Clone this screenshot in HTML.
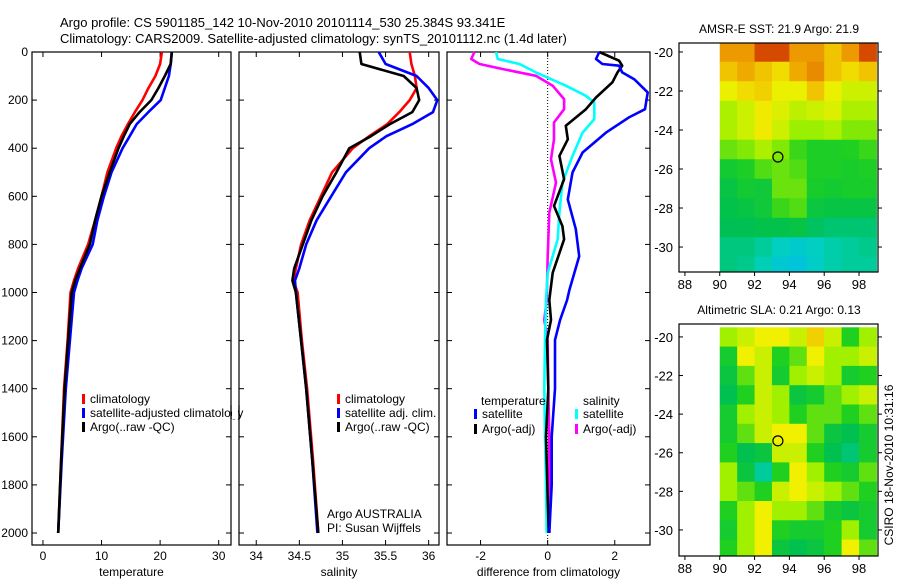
<!DOCTYPE html>
<html><head><meta charset="utf-8"><style>
body{margin:0;background:#fff}
svg{display:block;font-family:"Liberation Sans",sans-serif}
text{font-size:12px;fill:#000}
</style></head><body>
<svg id="fig" width="900" height="580" viewBox="0 0 900 580">
<text x="60" y="27" style="font-size:13px">Argo profile: CS 5901185_142 10-Nov-2010 20101114_530 25.384S 93.341E</text>
<text x="60" y="43" style="font-size:13px">Climatology: CARS2009. Satellite-adjusted climatology: synTS_20101112.nc (1.4d later)</text>
<g id="g"></g>
</svg>
<script>
// ---------- profile data ----------
const depths = [0,50,100,150,200,250,300,350,400,500,600,700,800,900,950,1000,1200,1400,1700,2000];
const tempClim = [20.3,20.0,19.2,18.0,17.0,15.7,14.5,13.4,12.5,11.0,10.0,8.9,7.7,6.0,5.3,4.7,4.2,3.6,3.1,2.6];
const tempArgo = [22,21.8,20.8,19.7,18.5,16.5,14.8,13.8,12.9,11.4,10.0,8.9,8.0,6.3,5.5,4.9,4.3,3.7,3.1,2.6];
const tempSat  = [22,21.8,21.5,20.8,20.1,18.0,16.0,14.8,13.6,11.7,10.4,9.3,8.5,6.6,5.9,5.3,4.6,3.9,3.2,2.6];
const salClim = [35.78,35.80,35.84,35.86,35.78,35.66,35.52,35.31,35.12,34.88,34.75,34.62,34.52,34.46,34.43,34.48,34.53,34.59,34.66,34.72];
const salArgo = [35.2,35.22,35.71,35.86,35.89,35.81,35.55,35.33,35.08,34.93,34.77,34.64,34.54,34.44,34.42,34.46,34.52,34.58,34.65,34.72];
const salSat  = [35.42,35.5,35.86,36.0,36.10,36.05,35.81,35.51,35.31,35.04,34.87,34.70,34.58,34.50,34.45,34.46,34.52,34.58,34.65,34.71];
// ---------- difference data ----------
const dTempSatDepth = [0,29,50,57,85,113,168,238,272,335,418,501,613,737,849,988,1031,1114,1197,1400,1600,1800,2000];
const dTempSat = [1.54,1.44,1.63,2.13,2.22,2.58,2.98,2.9,2.42,1.74,1.04,0.74,0.6,0.84,0.94,0.65,0.58,0.37,0.22,0.22,0.12,0.12,0.05];
const dTempArgoDepth = [0,36,57,85,126,189,238,307,363,432,529,640,724,779,918,1031,1114,1197,1400,1600,2000];
const dTempArgo = [1.54,2.13,2.22,2.08,1.93,1.44,1.14,0.54,0.6,0.35,0.49,0.19,0.44,0.49,0.15,0.05,0.1,-0.02,0.02,-0.05,0.03];
const dSalSatDepth = [0,29,50,85,140,182,210,279,335,432,543,668,779,918,1031,1200,1400,1600,1800,2000];
const dSalSat = [-1.54,-1.49,-0.84,-0.35,0.54,1.14,1.39,1.39,1.04,0.74,0.44,0.35,0.3,0,-0.05,-0.08,-0.1,-0.08,-0.05,-0.03];
const dSalArgoDepth = [0,29,50,71,99,140,196,238,293,363,446,543,668,849,1031,1114,1200,1400,1600,2000];
const dSalArgo = [-2.18,-2.28,-2.03,-1.33,-0.35,0.15,0.49,0.49,0.19,0.19,0.1,0.25,0.05,0,-0.03,-0.1,0,0.02,0.05,0.05];
// ---------- axis ticks ----------
const depthTicks = [0,200,400,600,800,1000,1200,1400,1600,1800,2000];
const tempTicks = [0,10,20,30];
const salTicks = [34,34.5,35,35.5,36];
const diffTicks = [-2,0,2];
const latTicks = [-20,-22,-24,-26,-28,-30];
const lonTicks = [88,90,92,94,96,98];
// ---------- map grids (rows lat -20..-31, cols lon 90.5..98.5) ----------
const gridLats = [-20,-21,-22,-23,-24,-25,-26,-27,-28,-29,-30,-31];
const gridLons = [90.5,91.5,92.5,93.5,94.5,95.5,96.5,97.5,98.5];
const sstGrid = [
[23.3,23.3,23.8,23.8,23.3,23.3,23.0,23.3,23.8],
[23.0,23.2,23.0,22.8,23.2,23.4,23.0,22.8,23.0],
[22.6,22.8,22.9,22.6,22.6,23.0,22.6,22.4,22.4],
[22.2,22.4,22.7,22.5,22.3,22.4,22.5,22.2,22.2],
[22.2,22.4,22.7,22.4,22.1,22.1,22.2,22.0,22.0],
[21.9,22.0,22.2,22.0,21.7,21.5,21.5,21.6,21.7],
[21.3,21.5,21.8,21.9,21.8,21.5,21.5,21.4,21.5],
[21.0,21.3,21.2,21.9,21.9,21.4,21.3,21.4,21.4],
[20.9,21.0,21.2,21.7,21.8,21.1,21.0,21.0,21.0],
[20.8,20.8,20.9,20.9,21.0,20.7,20.6,20.6,20.6],
[20.5,20.5,20.3,20.0,19.8,20.0,20.2,20.3,20.4],
[20.5,20.4,20.1,19.7,19.5,19.9,20.2,20.3,20.3]];
const slaGrid = [
[.6,.65,.7,.7,.65,.75,.65,.5,.6],
[.45,.7,.65,.5,.55,.7,.6,.6,.65],
[.4,.55,.65,.45,.6,.65,.6,.45,.5],
[.35,.5,.65,.6,.4,.45,.55,.6,.65],
[.45,.6,.65,.6,.5,.55,.55,.5,.55],
[.45,.55,.65,.7,.7,.55,.4,.35,.45],
[.5,.35,.4,.65,.65,.5,.35,.3,.45],
[.6,.4,.25,.5,.7,.6,.5,.45,.55],
[.6,.55,.5,.65,.7,.65,.6,.55,.5],
[.5,.6,.7,.6,.6,.55,.45,.4,.45],
[.45,.6,.7,.5,.45,.45,.5,.6,.45],
[.5,.6,.7,.4,.35,.4,.5,.7,.55]];
const floatLon = 93.341, floatLat = -25.384;

const NS = "http://www.w3.org/2000/svg";
const G = document.getElementById('g');
function mk(tag, attrs, parent){const e=document.createElementNS(NS,tag);for(const k in attrs)e.setAttribute(k,attrs[k]);(parent||G).appendChild(e);return e;}
function txt(x,y,s,anchor,parent,size){const t=mk('text',{x:x,y:y,'text-anchor':anchor||'start'},parent);if(size)t.style.fontSize=size+'px';t.textContent=s;return t;}

// main panels
const PT=52, PB=545;
const yD = d => PT + d*0.2405;
const panels = [
 {name:'temperature', x0:32, x1:231, v0:-1.87, v1:32.1, ticks:tempTicks, label:'temperature'},
 {name:'salinity', x0:239, x1:439, v0:33.8, v1:36.12, ticks:salTicks, label:'salinity'},
 {name:'difference', x0:447, x1:650, v0:-3.0, v1:3.05, ticks:diffTicks, label:'difference from climatology'}];
panels.forEach(p=>{p.sx = v => p.x0 + (v-p.v0)/(p.v1-p.v0)*(p.x1-p.x0);});

panels.forEach((p,i)=>{
  const g = mk('g',{});
  
  
  const r = mk('rect',{x:p.x0,y:PT,width:p.x1-p.x0,height:PB-PT,fill:'#fff',stroke:'#000','stroke-width':1.2},g);
  
  
  p.ticks.forEach(t=>{
    const x=p.sx(t);
    mk('line',{x1:x,x2:x,y1:PB,y2:PB-5,stroke:'#000'},g);
    mk('line',{x1:x,x2:x,y1:PT,y2:PT+5,stroke:'#000'},g);
    const l=txt(x,560,String(t),'middle',g);
    
    
  });
  depthTicks.forEach(d=>{
    const y=yD(d);
    mk('line',{x1:p.x0,x2:p.x0+5,y1:y,y2:y,stroke:'#000'},g);
    mk('line',{x1:p.x1,x2:p.x1-5,y1:y,y2:y,stroke:'#000'},g);
    if(i===0){
      const l=txt(28,y+4,String(d),'end',g);
      
      
    }
  });
  const xl=txt((p.x0+p.x1)/2,576,p.label,'middle',g);
  
  
});

function profile(p, ds, vs, color, name){
  let d='';
  vs.forEach((v,k)=>{d+=(k?'L':'M')+p.sx(v).toFixed(1)+','+yD(ds[k]).toFixed(1);});
  const e=mk('path',{d:d,fill:'none',stroke:color,'stroke-width':2.6,'stroke-linejoin':'round'});
  
  
}
// zero line in diff panel
const zx = panels[2].sx(0);
const zl = mk('line',{x1:zx,x2:zx,y1:PT,y2:PB,stroke:'#000','stroke-dasharray':'1,2'});



profile(panels[0], depths, tempClim, '#f00', 'temp-climatology-line');
profile(panels[0], depths, tempSat, '#00f', 'temp-satellite-line');
profile(panels[0], depths, tempArgo, '#000', 'temp-argo-line');
profile(panels[1], depths, salClim, '#f00', 'sal-climatology-line');
profile(panels[1], depths, salSat, '#00f', 'sal-satellite-line');
profile(panels[1], depths, salArgo, '#000', 'sal-argo-line');
profile(panels[2], dSalArgoDepth, dSalArgo, '#f0f', 'diff-sal-argo-line');
profile(panels[2], dSalSatDepth, dSalSat, '#0ff', 'diff-sal-satellite-line');
profile(panels[2], dTempArgoDepth, dTempArgo, '#000', 'diff-temp-argo-line');
profile(panels[2], dTempSatDepth, dTempSat, '#00f', 'diff-temp-satellite-line');

function legendEntry(x,y,color,label,name){
  const g=mk('g',{});
  
  
  if(color) mk('rect',{x:x,y:y-8,width:3,height:10,fill:color},g);
  txt(x+(color?8:0),y+1,label,'start',g);
}
legendEntry(82,402,'#f00','climatology','legend-temp-climatology');
legendEntry(82,416,'#00f','satellite-adjusted climatology','legend-temp-satellite');
legendEntry(82,430,'#000','Argo(..raw -QC)','legend-temp-argo');
legendEntry(337,402,'#f00','climatology','legend-sal-climatology');
legendEntry(337,416,'#00f','satellite adj. clim.','legend-sal-satellite');
legendEntry(337,430,'#000','Argo(..raw -QC)','legend-sal-argo');
legendEntry(481,404,null,'temperature','legend-temperature-header');
legendEntry(474,417,'#00f','satellite','legend-diff-temp-satellite');
legendEntry(474,432,'#000','Argo(-adj)','legend-diff-temp-argo');
legendEntry(583,404,null,'salinity','legend-salinity-header');
legendEntry(575,417,'#0ff','satellite','legend-diff-sal-satellite');
legendEntry(575,432,'#f0f','Argo(-adj)','legend-diff-sal-argo');
// clip the long legend label to temperature panel
const a1=txt(327,518,'Argo AUSTRALIA','start');


const a2=txt(327,532,'PI: Susan Wijffels','start');


// white cover over overflow of legend past temp panel edge
mk('rect',{x:232,y:405,width:6,height:14,fill:'#fff'});
mk('line',{x1:231,x2:231,y1:405,y2:419,stroke:'#000','stroke-width':1.2});
mk('line',{x1:239,x2:239,y1:405,y2:419,stroke:'#000','stroke-width':1.2});

// colormap
const cstops=[[0,[0,184,240]],[0.2,[0,208,192]],[0.35,[0,192,80]],[0.5,[32,208,32]],[0.6,[160,240,0]],[0.7,[240,240,0]],[0.8,[240,176,0]],[0.9,[224,96,0]],[1,[176,0,0]]];
function cmap(t){t=Math.max(0,Math.min(1,t));for(let i=1;i<cstops.length;i++){if(t<=cstops[i][0]){const a=cstops[i-1],b=cstops[i],f=(t-a[0])/(b[0]-a[0]);return 'rgb('+a[1].map((c,j)=>Math.round(c+(b[1][j]-c)*f)).join(',')+')';}}return 'rgb(176,0,0)';}

function drawMap(m){
  const g=mk('g',{});
  
  
  const sx=lon=>m.x0+(lon-m.lon0)/(m.lon1-m.lon0)*(m.x1-m.x0);
  const sy=lat=>m.y0+(m.lat0-lat)/(m.lat0-m.lat1)*(m.y1-m.y0);
  const cp=mk('clipPath',{id:'clip-'+m.name},g);
  mk('rect',{x:sx(89.9),y:m.y0,width:sx(99.1)-sx(89.9),height:m.y1-m.y0},cp);
  const cells=mk('g',{'clip-path':'url(#clip-'+m.name+')'},g);
  m.grid.forEach((row,r)=>row.forEach((v,c)=>{
    const x=sx(gridLons[c]-0.5), y=sy(gridLats[r]+0.5);
    const e=mk('rect',{x:x,y:y,width:sx(gridLons[c]+0.5)-x+0.5,height:sy(gridLats[r]-0.5)-y+0.5,fill:cmap(m.norm(v))},cells);
    
    
  }));
  mk('rect',{x:m.x0,y:m.y0,width:m.x1-m.x0,height:m.y1-m.y0,fill:'none',stroke:'#000','stroke-width':1.2},g);
  latTicks.forEach(l=>{const y=sy(l);mk('line',{x1:m.x0,x2:m.x0+4,y1:y,y2:y,stroke:'#000'},g);mk('line',{x1:m.x1,x2:m.x1+4,y1:y,y2:y,stroke:'#000'},g);
    const t=txt(m.x0-6,y+5,String(l),'end',g,13);});
  lonTicks.forEach(l=>{const x=sx(l);mk('line',{x1:x,x2:x,y1:m.y1,y2:m.y1+4,stroke:'#000'},g);
    const t=txt(x,m.y1+17,String(l),'middle',g,13);});
  const c=mk('circle',{cx:sx(floatLon),cy:sy(floatLat),r:5,fill:'none',stroke:'#000','stroke-width':1.2},g);
  
  
  const t=txt(779,m.y0-10,m.title,'middle',g);
  
  
}
drawMap({name:'sst-map',x0:679,x1:878,y0:43,y1:272,lon0:87.66,lon1:99.09,lat0:-19.54,lat1:-31.28,grid:sstGrid,norm:v=>(v-19)/(24.2-19),title:'AMSR-E SST: 21.9 Argo: 21.9'});
drawMap({name:'sla-map',x0:679,x1:878,y0:324,y1:556,lon0:87.66,lon1:99.09,lat0:-19.33,lat1:-31.35,grid:slaGrid,norm:v=>v,title:'Altimetric SLA: 0.21 Argo: 0.13'});

const st=txt(0,0,'CSIRO 18-Nov-2010 10:31:16','middle');
st.setAttribute('transform','translate(893,465) rotate(-90)');


</script>
</body></html>
